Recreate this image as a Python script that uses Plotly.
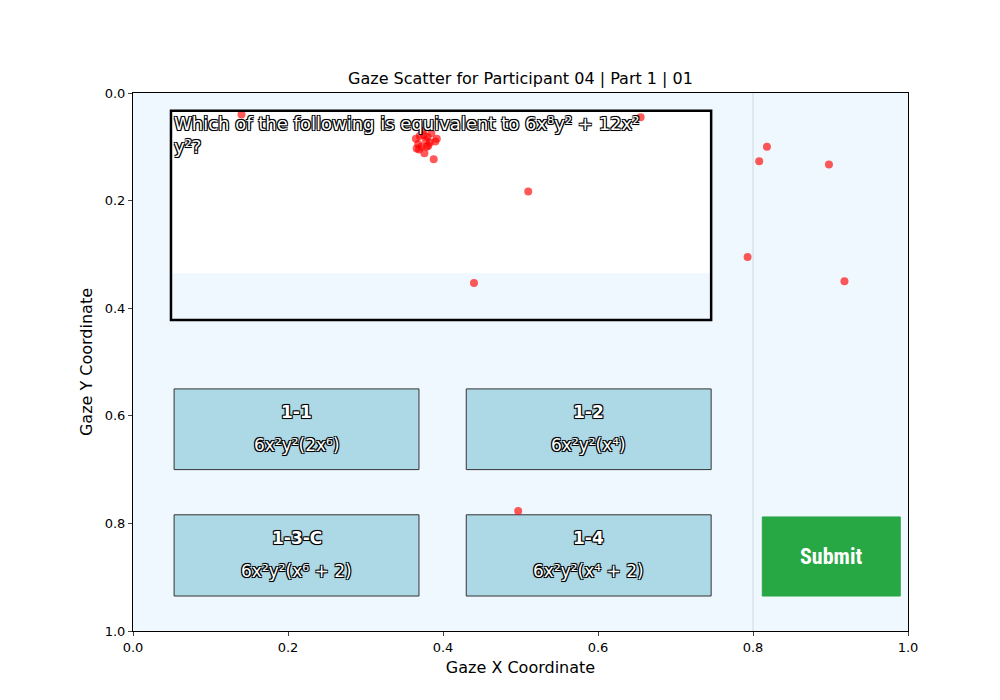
import plotly.graph_objects as go

gaze_x = [0.14, 0.655, 0.51, 0.44, 0.818, 0.808, 0.898, 0.793, 0.918, 0.497,
          0.365, 0.37, 0.375, 0.38, 0.385, 0.39, 0.368, 0.372, 0.378, 0.383,
          0.366, 0.376, 0.381, 0.388, 0.374, 0.369, 0.392, 0.379]
gaze_y = [0.04, 0.045, 0.183, 0.353, 0.1, 0.127, 0.133, 0.305, 0.35, 0.777,
          0.085, 0.08, 0.078, 0.082, 0.075, 0.09, 0.095, 0.1, 0.088, 0.092,
          0.103, 0.112, 0.098, 0.123, 0.07, 0.105, 0.085, 0.1]

choice_labels = ["1-1", "1-2", "1-3-C", "1-4", "1-5"]
choice_texts = ["6x²y²(2x⁶)", "6x²y²(x⁴)", "6x²y²(x⁶ + 2)", "6x²y²(x⁴ + 2)", "6x²y²(x⁶ + 6)"]
choice_x0 = [0.053, 0.43, 0.053, 0.43]
choice_x1 = [0.369, 0.746, 0.369, 0.746]
choice_y0 = [0.55, 0.55, 0.784, 0.784]
choice_y1 = [0.70, 0.70, 0.935, 0.935]
question = "Which of the following is equivalent to 6x⁸y² + 12x²<br>y²?"

outline = "-1px -1px 0 #000, 1px -1px 0 #000, -1px 1px 0 #000, 1px 1px 0 #000, 0 0 2px #000"

fig = go.Figure()
shapes = [
    dict(type="rect", x0=0.049, x1=0.746, y0=0.033, y1=0.335, fillcolor="white", line_width=0, layer="below"),
    dict(type="rect", x0=0.049, x1=0.746, y0=0.033, y1=0.422, line=dict(color="black", width=2.5), fillcolor="rgba(0,0,0,0)"),
    dict(type="line", x0=0.8, x1=0.8, y0=0, y1=1, line=dict(color="#d0d8e0", width=1), layer="below"),
    dict(type="rect", x0=0.812, x1=0.99, y0=0.788, y1=0.935, fillcolor="#28a745", line=dict(color="#28a745", width=1), layer="below"),
]
anns = [dict(x=0.05, y=0.033, xanchor="left", yanchor="top", text=question, showarrow=False, align="left",
             font=dict(size=18, color="white", family="DejaVu Sans", shadow=outline))]
for i in range(4):
    shapes.append(dict(type="rect", x0=choice_x0[i], x1=choice_x1[i], y0=choice_y0[i], y1=choice_y1[i],
                       fillcolor="#add8e6", line=dict(color="#333", width=1), layer="below"))
    cx = (choice_x0[i] + choice_x1[i]) / 2
    anns.append(dict(x=cx, y=choice_y0[i] + 0.043, text="<b>" + choice_labels[i] + "</b>", showarrow=False,
                     font=dict(size=17, color="white", family="DejaVu Sans", shadow=outline)))
    anns.append(dict(x=cx, y=choice_y0[i] + 0.104, text=choice_texts[i], showarrow=False,
                     font=dict(size=17, color="white", family="DejaVu Sans", shadow=outline)))
anns.append(dict(x=0.225, y=1.024, text="<b>" + choice_labels[4] + "</b>", showarrow=False,
                 font=dict(size=17, color="white", family="DejaVu Sans", shadow=outline)))
anns.append(dict(x=0.225, y=1.084, text=choice_texts[4], showarrow=False,
                 font=dict(size=17, color="white", family="DejaVu Sans", shadow=outline)))
anns.append(dict(x=0.901, y=0.862, text="Submit", showarrow=False,
                 font=dict(size=22, color="white", family="Liberation Sans Narrow, Roboto Condensed, Arial Narrow", weight="bold")))

fig.add_trace(go.Scatter(x=gaze_x, y=gaze_y, mode="markers",
                         marker=dict(color="rgba(255,0,0,0.65)", size=8), cliponaxis=False))

fig.update_layout(
    width=1000, height=700, margin=dict(l=125, r=100, t=85, b=77),
    paper_bgcolor="white", plot_bgcolor="#f0f8ff", showlegend=False,
    title=dict(text="Gaze Scatter for Participant 04 | Part 1 | 01", x=0.5125, y=0.9, xanchor="center",
               yanchor="middle", font=dict(size=16, color="black", family="DejaVu Sans")),
    shapes=shapes, annotations=anns,
    font=dict(family="DejaVu Sans", size=13, color="black"),
    xaxis=dict(range=[0, 1], tickvals=[0, 0.2, 0.4, 0.6, 0.8, 1.0], ticktext=["0.0", "0.2", "0.4", "0.6", "0.8", "1.0"],
               showgrid=False, zeroline=False, showline=True, linecolor="black", mirror=True,
               ticks="outside", ticklen=4, title=dict(text="Gaze X Coordinate", standoff=8)),
    yaxis=dict(range=[1, 0], tickvals=[0, 0.2, 0.4, 0.6, 0.8, 1.0], ticktext=["0.0", "0.2", "0.4", "0.6", "0.8", "1.0"],
               showgrid=False, zeroline=False, showline=True, linecolor="black", mirror=True,
               ticks="outside", ticklen=4, title=dict(text="Gaze Y Coordinate", standoff=8)),
)
fig.write_html("out.html")
